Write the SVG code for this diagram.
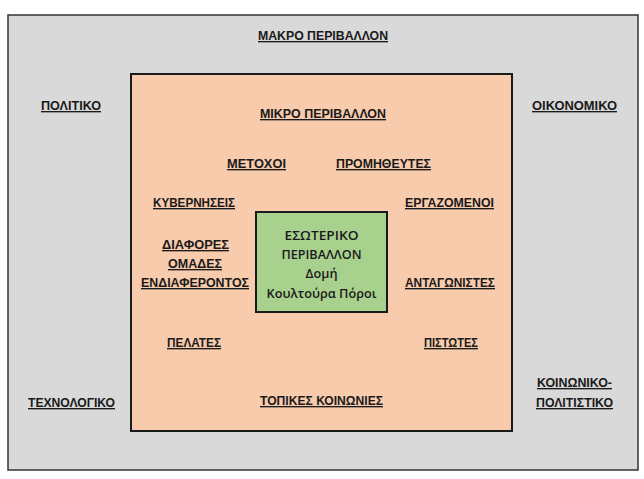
<svg xmlns="http://www.w3.org/2000/svg" width="644" height="479" viewBox="0 0 644 479">
<style>
.l{font-family:"Liberation Sans",Arial,sans-serif;font-size:13.5px;font-weight:bold;fill:#1a1a1a;text-decoration:underline;text-anchor:middle}
.g{font-family:"Open Sans","Liberation Sans",Arial,sans-serif;font-size:13px;font-weight:600;fill:#1a1a1a;text-anchor:middle}
</style>
<rect width="644" height="479" fill="#ffffff"/>
<g id="macro">
<rect x="8" y="15" width="630" height="455" fill="#d9d9d9" stroke="#333333" stroke-width="1.5"/>
<text class="l" x="323" y="40" textLength="130" lengthAdjust="spacingAndGlyphs">ΜΑΚΡΟ ΠΕΡΙΒΑΛΛΟΝ</text>
<text class="l" x="71" y="110" textLength="60" lengthAdjust="spacingAndGlyphs">ΠΟΛΙΤΙΚΟ</text>
<text class="l" x="574.5" y="110" textLength="85" lengthAdjust="spacingAndGlyphs">ΟΙΚΟΝΟΜΙΚΟ</text>
<text class="l" x="71.5" y="407" textLength="87" lengthAdjust="spacingAndGlyphs">ΤΕΧΝΟΛΟΓΙΚΟ</text>
<text class="l" x="574.5" y="387" textLength="75" lengthAdjust="spacingAndGlyphs">ΚΟΙΝΩΝΙΚΟ-</text>
<text class="l" x="574.5" y="407" textLength="77" lengthAdjust="spacingAndGlyphs">ΠΟΛΙΤΙΣΤΙΚΟ</text>
</g>
<g id="micro">
<rect x="131" y="74" width="381" height="357" fill="#f8cbad" stroke="#1a1a1a" stroke-width="2"/>
<text class="l" x="323" y="118" textLength="126" lengthAdjust="spacingAndGlyphs">ΜΙΚΡΟ ΠΕΡΙΒΑΛΛΟΝ</text>
<text class="l" x="256.5" y="168" textLength="59" lengthAdjust="spacingAndGlyphs">ΜΕΤΟΧΟΙ</text>
<text class="l" x="383.5" y="168" textLength="95" lengthAdjust="spacingAndGlyphs">ΠΡΟΜΗΘΕΥΤΕΣ</text>
<text class="l" x="194" y="207" textLength="82" lengthAdjust="spacingAndGlyphs">ΚΥΒΕΡΝΗΣΕΙΣ</text>
<text class="l" x="449.5" y="207" textLength="89" lengthAdjust="spacingAndGlyphs">ΕΡΓΑΖΟΜΕΝΟΙ</text>
<text class="l" x="195.5" y="249" textLength="67" lengthAdjust="spacingAndGlyphs">ΔΙΑΦΟΡΕΣ</text>
<text class="l" x="195" y="268" textLength="54" lengthAdjust="spacingAndGlyphs">ΟΜΑΔΕΣ</text>
<text class="l" x="195" y="287" textLength="108" lengthAdjust="spacingAndGlyphs">ΕΝΔΙΑΦΕΡΟΝΤΟΣ</text>
<text class="l" x="450" y="287" textLength="90" lengthAdjust="spacingAndGlyphs">ΑΝΤΑΓΩΝΙΣΤΕΣ</text>
<text class="l" x="194" y="347" textLength="54" lengthAdjust="spacingAndGlyphs">ΠΕΛΑΤΕΣ</text>
<text class="l" x="451" y="347" textLength="54" lengthAdjust="spacingAndGlyphs">ΠΙΣΤΩΤΕΣ</text>
<text class="l" x="321.5" y="405" textLength="123" lengthAdjust="spacingAndGlyphs">ΤΟΠΙΚΕΣ ΚΟΙΝΩΝΙΕΣ</text>
</g>
<g id="internal">
<rect x="256" y="212" width="131" height="100" fill="#a9d18e" stroke="#1a1a1a" stroke-width="2"/>
<text class="g" x="321.5" y="240" textLength="74" lengthAdjust="spacingAndGlyphs">ΕΣΩΤΕΡΙΚΟ</text>
<text class="g" x="321.5" y="259" textLength="80" lengthAdjust="spacingAndGlyphs">ΠΕΡΙΒΑΛΛΟΝ</text>
<text class="g" x="321.5" y="278" textLength="32" lengthAdjust="spacingAndGlyphs">Δομή</text>
<text class="g" x="321.5" y="298" textLength="110" lengthAdjust="spacingAndGlyphs">Κουλτούρα  Πόροι</text>
</g>
<g id="connectors"></g>
</svg>
